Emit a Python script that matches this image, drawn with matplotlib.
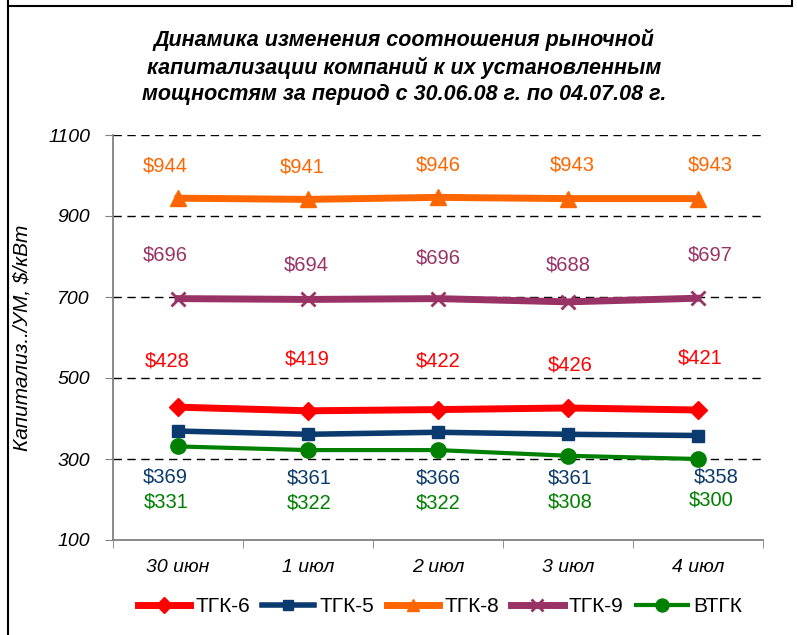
import numpy as np
import matplotlib.pyplot as plt
from matplotlib.lines import Line2D

plt.rcParams['font.family'] = ['Liberation Sans', 'DejaVu Sans']

days = ['30 июн', '1 июл', '2 июл', '3 июл', '4 июл']
tgk6 = [428, 419, 422, 426, 421]
tgk5 = [369, 361, 366, 361, 358]
tgk8 = [944, 941, 946, 943, 943]
tgk9 = [696, 694, 696, 688, 697]
vtgk = [331, 322, 322, 308, 300]

series = [
    ('ТГК-6', tgk6, '#FF0000', 'D', 9, 5),
    ('ТГК-5', tgk5, '#0B3A6E', 's', 9, 4),
    ('ТГК-8', tgk8, '#FF6600', '^', 11, 5),
    ('ТГК-9', tgk9, '#993366', 'x', 10, 5),
    ('ВТГК', vtgk, '#008000', 'o', 11, 3),
]
# label offsets in pixels (up / right positive), as the labels sit in the original
label_dy = {
    'ТГК-6': [46, 52, 49, 43, 52],
    'ТГК-5': [-46, -44, -46, -44, -41],
    'ТГК-8': [32, 32, 32, 34, 34],
    'ТГК-9': [44, 34, 41, 37, 43],
    'ВТГК': [-56, -53, -53, -46, -41],
}
label_dx = {
    'ТГК-6': [-11, -1, 0, 2, 2],
    'ТГК-5': [-13, 1, 0, 2, 18],
    'ТГК-8': [-13, -6, 0, 4, 12],
    'ТГК-9': [-13, -2, 0, 0, 12],
    'ВТГК': [-12, 1, 0, 2, 13],
}

fig = plt.figure(figsize=(7.97, 6.35), dpi=100)
ax = fig.add_axes([113/797, 1-540/635, 650/797, 405/635])

x = np.arange(len(days))
for name, vals, col, mk, ms, lw in series:
    ax.plot(x, vals, color=col, lw=lw, marker=mk, ms=ms, mew=2 if mk == 'x' else 1,
            mec=col, mfc=col, label=name, zorder=3)
    for xi, v, dx, dy in zip(x, vals, label_dx[name], label_dy[name]):
        ax.annotate(f'${v}', (xi, v), xytext=(dx*0.72, dy*0.72), textcoords='offset points',
                    ha='center', va='center', fontsize=14.5, color=col)

ax.set_xlim(-0.5, 4.5)
ax.set_ylim(100, 1100)
ax.set_yticks([100, 300, 500, 700, 900, 1100])
ax.set_yticklabels(['100', '300', '500', '700', '900', '1100'], fontsize=14, style='italic')
for yv in [300, 500, 700, 900, 1100]:
    ax.axhline(yv, color='black', lw=1, ls=(0, (6, 4)), zorder=1)
ax.tick_params(axis='y', length=6, color='#808080', pad=10.5)

ax.set_xticks(x)
ax.set_xticklabels(days, fontsize=14, style='italic')
ax.tick_params(axis='x', length=0, pad=14)
ax.set_xticks(np.arange(-0.5, 5, 1), minor=True)
ax.tick_params(axis='x', which='minor', length=6, color='#808080', direction='out')

for s in ['top', 'right']:
    ax.spines[s].set_visible(False)
for s in ['left', 'bottom']:
    ax.spines[s].set_color('#808080')
    ax.spines[s].set_linewidth(1.3)

ax.set_ylabel('Капитализ../УМ, $/кВт', fontsize=15, style='italic')
ax.yaxis.set_label_coords((32-113)/650, 0.5)

fig.text(404/797, 1-67/635,
         'Динамика изменения соотношения рыночной\n'
         'капитализации компаний к их установленным\n'
         'мощностям за период с 30.06.08 г. по 04.07.08 г.',
         ha='center', va='center', fontsize=15.5, fontweight='bold', style='italic',
         linespacing=1.3)

handles = [Line2D([], [], color=c, lw=lw, marker=mk, ms=ms*0.85, mew=2 if mk == 'x' else 1,
                  mec=c, mfc=c) for _, _, c, mk, ms, lw in series]
fig.legend(handles, [s[0] for s in series], loc='center', bbox_to_anchor=(440/797, 1-607/635),
           ncol=5, frameon=False, fontsize=15, handlelength=2.5, handletextpad=0.25,
           columnspacing=0.6)

# frame lines of the sheet
fig.add_artist(Line2D([8/797, 792/797], [1-6/635, 1-6/635], color='black', lw=1.5))
fig.add_artist(Line2D([8/797, 8/797], [0, 1], color='black', lw=1.5))
fig.add_artist(Line2D([792/797, 792/797], [1-6/635, 1], color='black', lw=1.5))

fig.savefig('out.png', dpi=100)
